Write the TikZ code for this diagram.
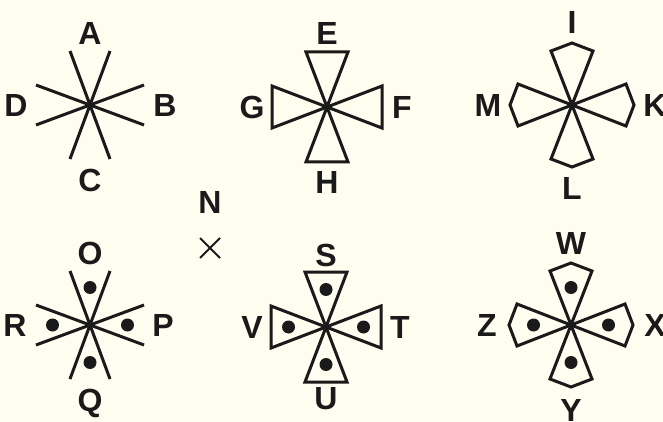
\documentclass[tikz,border=0pt]{standalone}
\usepackage{fontspec}
\setmainfont{Liberation Sans}
\usepackage{xcolor}
\definecolor{paper}{HTML}{FFFDF0}
\definecolor{ink}{HTML}{1A1A1A}
\usetikzlibrary{positioning}

\begin{document}
\begin{tikzpicture}[x=0.5pt, y=-0.5pt,
  letter/.style={font=\fontsize{16}{16}\selectfont\bfseries, text=ink, inner sep=0pt, text depth=0pt},
  arm/.style={draw=ink, line width=1.5pt, line join=miter},
  spot/.style={fill=ink},
  cross/.style={draw=ink, line width=1pt}
]
\fill[paper] (0,0) rectangle (663,422);
\useasboundingbox (0,0) rectangle (663,422);

% top row
\begin{scope}[shift={(90,105)}]
  \foreach \r in {0,90,180,270}
    \draw[arm, rotate=\r] (0,0) -- (-20,-54) (0,0) -- (20,-54);
  \node[letter] (A) at (0,-72) {A};
  \node[letter] (B) at (75,0) {B};
  \node[letter] (C) at (0,75) {C};
  \node[letter] (D) at (-74,0) {D};
\end{scope}

\begin{scope}[shift={(327,107)}]
  \foreach \r in {0,90,180,270}
    \draw[arm, rotate=\r] (0,0) -- (-21,-55) -- (21,-55) -- cycle;
  \node[letter] (E) at (0,-74) {E};
  \node[letter] (F) at (75,0) {F};
  \node[letter] (H) at (0,75) {H};
  \node[letter] (G) at (-75,0) {G};
\end{scope}

\begin{scope}[shift={(572,105)}]
  \foreach \r in {0,90,180,270}
    \draw[arm, rotate=\r] (0,0) -- (-21,-54) -- (0,-62) -- (21,-54) -- cycle;
  \node[letter] (I) at (0,-83) {I};
  \node[letter] (K) at (83,0) {K};
  \node[letter] (L) at (0,83) {L};
  \node[letter] (M) at (-84,0) {M};
\end{scope}

% middle mark
\node[letter] (N) at (210,202) {N};
\coordinate (x0) at (210,248);
\draw[cross] ([shift={(-10,-10)}]x0) -- ([shift={(10,10)}]x0)
             ([shift={(-10,10)}]x0) -- ([shift={(10,-10)}]x0);

% bottom row
\begin{scope}[shift={(90,325)}]
  \foreach \r in {0,90,180,270} {
    \draw[arm, rotate=\r] (0,0) -- (-20,-54) (0,0) -- (20,-54);
    \fill[spot, rotate=\r] (0,-37.5) circle[radius=6.5];
  }
  \node[letter] (O) at (0,-72) {O};
  \node[letter] (P) at (73,0) {P};
  \node[letter] (Q) at (0,75) {Q};
  \node[letter] (R) at (-75,0) {R};
\end{scope}

\begin{scope}[shift={(326,327)}]
  \foreach \r in {0,90,180,270} {
    \draw[arm, rotate=\r] (0,0) -- (-21,-55) -- (21,-55) -- cycle;
    \fill[spot, rotate=\r] (0,-37.5) circle[radius=6.5];
  }
  \node[letter] (S) at (0,-72) {S};
  \node[letter] (T) at (74,0) {T};
  \node[letter] (U) at (0,71) {U};
  \node[letter] (V) at (-74,0) {V};
\end{scope}

\begin{scope}[shift={(571,325)}]
  \foreach \r in {0,90,180,270} {
    \draw[arm, rotate=\r] (0,0) -- (-21,-54) -- (0,-62) -- (21,-54) -- cycle;
    \fill[spot, rotate=\r] (0,-37.5) circle[radius=6.5];
  }
  \node[letter] (W) at (0,-82) {W};
  \node[letter] (X) at (84,0) {X};
  \node[letter] (Y) at (0,85) {Y};
  \node[letter] (Z) at (-84,0) {Z};
\end{scope}
\end{tikzpicture}
\end{document}
